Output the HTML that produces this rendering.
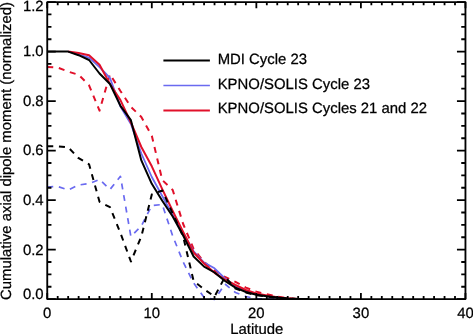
<!DOCTYPE html>
<html><head><meta charset="utf-8"><style>
html,body{margin:0;padding:0;background:#fff;}
body{width:473px;height:334px;overflow:hidden;}
svg{display:block;will-change:transform;}
text{font-family:"Liberation Sans",sans-serif;font-size:14.9px;fill:#000;stroke:#000;stroke-width:0.25px;text-rendering:geometricPrecision;}
</style></head><body>
<svg width="473" height="334" viewBox="0 0 473 334">
<g><polyline points="47.25,187.00 57.70,186.50 68.16,190.00 78.62,185.00 89.07,183.60 99.53,179.40 109.98,189.50 120.44,176.30 130.89,236.50 141.34,226.00 151.80,205.50 162.25,204.50 172.71,236.00 183.16,262.00 193.62,283.00 204.07,297.50 214.53,299.50 224.99,284.00 235.44,292.50 245.90,296.50 256.35,298.80 266.81,299.10 277.26,299.10" fill="none" stroke="#6a6af0" stroke-width="1.7" stroke-linejoin="round" stroke-dasharray="6 5.7"/><polyline points="47.25,67.00 57.70,67.60 68.16,71.60 78.62,74.80 89.07,85.30 99.53,110.60 109.98,74.30 120.44,91.00 130.89,106.80 141.34,117.00 151.80,135.70 162.25,180.00 172.71,190.00 183.16,224.00 193.62,249.00 204.07,262.00 214.53,270.50 224.99,277.00 235.44,281.80 245.90,287.60 256.35,291.60 266.81,294.30 277.26,296.60 287.72,298.30 298.17,299.10" fill="none" stroke="#e1102a" stroke-width="2.0" stroke-linejoin="round" stroke-dasharray="6 5.7"/><polyline points="68.16,51.50 78.62,54.60 89.07,57.60 99.53,67.20 109.98,78.00 120.44,106.50 130.89,124.00 141.34,153.50 151.80,177.00 162.25,196.00 172.71,215.00 183.16,233.00 193.62,251.30 204.07,262.50 214.53,268.30 224.99,278.50 235.44,286.00 245.90,291.00 256.35,294.20 266.81,296.20 277.26,297.70 287.72,298.60 298.17,299.00 308.62,299.10" fill="none" stroke="#6a6af0" stroke-width="1.8" stroke-linejoin="round"/><polyline points="68.16,51.50 78.62,53.10 89.07,55.20 99.53,64.80 109.98,84.00 120.44,100.10 130.89,122.50 141.34,147.00 151.80,166.30 162.25,189.20 172.71,211.00 183.16,232.00 193.62,252.50 204.07,263.50 214.53,272.80 224.99,279.60 235.44,285.00 245.90,290.00 256.35,293.50 266.81,295.50 277.26,297.20 287.72,298.30 298.17,298.90 308.62,299.10" fill="none" stroke="#e1102a" stroke-width="2.0" stroke-linejoin="round"/><polyline points="47.25,146.30 57.70,146.30 68.16,147.30 78.62,158.20 89.07,164.30 99.53,201.80 109.98,207.20 120.44,233.00 130.89,261.50 141.34,236.50 151.80,194.50 162.25,190.50 172.71,213.50 183.16,236.50 193.62,281.00 204.07,289.20 214.53,296.50 224.99,277.00 235.44,288.50 245.90,292.50 256.35,295.30 266.81,296.60 277.26,297.80 287.72,298.60 298.17,299.10" fill="none" stroke="#000" stroke-width="2.0" stroke-linejoin="round" stroke-dasharray="6 5.7"/><polyline points="47.25,51.50 57.70,51.50 68.16,51.60 78.62,55.20 89.07,60.00 99.53,73.50 109.98,84.00 120.44,105.80 130.89,120.20 141.34,160.40 151.80,183.80 162.25,200.70 172.71,216.50 183.16,235.50 193.62,256.50 204.07,266.60 214.53,272.50 224.99,281.00 235.44,287.60 245.90,292.00 256.35,294.80 266.81,296.20 277.26,297.40 287.72,298.40 298.17,298.90 308.62,299.10" fill="none" stroke="#000" stroke-width="2.0" stroke-linejoin="round"/></g>
<rect x="47.25" y="2.1" width="418.20" height="297.00" fill="none" stroke="#000" stroke-width="1.85" stroke-linejoin="round"/><path d="M47.25,299.1v-6.10M47.25,2.1v6.10M57.70,299.1v-3.10M57.70,2.1v3.10M68.16,299.1v-3.10M68.16,2.1v3.10M78.62,299.1v-3.10M78.62,2.1v3.10M89.07,299.1v-3.10M89.07,2.1v3.10M99.53,299.1v-3.10M99.53,2.1v3.10M109.98,299.1v-3.10M109.98,2.1v3.10M120.44,299.1v-3.10M120.44,2.1v3.10M130.89,299.1v-3.10M130.89,2.1v3.10M141.34,299.1v-3.10M141.34,2.1v3.10M151.80,299.1v-6.10M151.80,2.1v6.10M162.25,299.1v-3.10M162.25,2.1v3.10M172.71,299.1v-3.10M172.71,2.1v3.10M183.16,299.1v-3.10M183.16,2.1v3.10M193.62,299.1v-3.10M193.62,2.1v3.10M204.07,299.1v-3.10M204.07,2.1v3.10M214.53,299.1v-3.10M214.53,2.1v3.10M224.99,299.1v-3.10M224.99,2.1v3.10M235.44,299.1v-3.10M235.44,2.1v3.10M245.90,299.1v-3.10M245.90,2.1v3.10M256.35,299.1v-6.10M256.35,2.1v6.10M266.81,299.1v-3.10M266.81,2.1v3.10M277.26,299.1v-3.10M277.26,2.1v3.10M287.72,299.1v-3.10M287.72,2.1v3.10M298.17,299.1v-3.10M298.17,2.1v3.10M308.62,299.1v-3.10M308.62,2.1v3.10M319.08,299.1v-3.10M319.08,2.1v3.10M329.54,299.1v-3.10M329.54,2.1v3.10M339.99,299.1v-3.10M339.99,2.1v3.10M350.44,299.1v-3.10M350.44,2.1v3.10M360.90,299.1v-6.10M360.90,2.1v6.10M371.36,299.1v-3.10M371.36,2.1v3.10M381.81,299.1v-3.10M381.81,2.1v3.10M392.26,299.1v-3.10M392.26,2.1v3.10M402.72,299.1v-3.10M402.72,2.1v3.10M413.18,299.1v-3.10M413.18,2.1v3.10M423.63,299.1v-3.10M423.63,2.1v3.10M434.08,299.1v-3.10M434.08,2.1v3.10M444.54,299.1v-3.10M444.54,2.1v3.10M455.00,299.1v-3.10M455.00,2.1v3.10M465.45,299.1v-6.10M465.45,2.1v6.10M47.25,299.10h8.50M465.45,299.10h-8.50M47.25,286.73h4.20M465.45,286.73h-4.20M47.25,274.35h4.20M465.45,274.35h-4.20M47.25,261.98h4.20M465.45,261.98h-4.20M47.25,249.60h8.50M465.45,249.60h-8.50M47.25,237.23h4.20M465.45,237.23h-4.20M47.25,224.85h4.20M465.45,224.85h-4.20M47.25,212.48h4.20M465.45,212.48h-4.20M47.25,200.10h8.50M465.45,200.10h-8.50M47.25,187.73h4.20M465.45,187.73h-4.20M47.25,175.35h4.20M465.45,175.35h-4.20M47.25,162.98h4.20M465.45,162.98h-4.20M47.25,150.60h8.50M465.45,150.60h-8.50M47.25,138.23h4.20M465.45,138.23h-4.20M47.25,125.85h4.20M465.45,125.85h-4.20M47.25,113.48h4.20M465.45,113.48h-4.20M47.25,101.10h8.50M465.45,101.10h-8.50M47.25,88.72h4.20M465.45,88.72h-4.20M47.25,76.35h4.20M465.45,76.35h-4.20M47.25,63.97h4.20M465.45,63.97h-4.20M47.25,51.60h8.50M465.45,51.60h-8.50M47.25,39.23h4.20M465.45,39.23h-4.20M47.25,26.85h4.20M465.45,26.85h-4.20M47.25,14.47h4.20M465.45,14.47h-4.20M47.25,2.10h8.50M465.45,2.10h-8.50" stroke="#000" stroke-width="1.8" fill="none"/>
<g><line x1="163.4" y1="60.6" x2="209.9" y2="60.6" stroke="#000" stroke-width="2.0"/><text x="217.7" y="63.8">MDI Cycle 23</text><line x1="163.4" y1="85.5" x2="209.9" y2="85.5" stroke="#6a6af0" stroke-width="1.6"/><text x="217.7" y="88.5">KPNO/SOLIS Cycle 23</text><line x1="163.4" y1="110.4" x2="209.9" y2="110.4" stroke="#e1102a" stroke-width="2.0"/><text x="217.7" y="113.2">KPNO/SOLIS Cycles 21 and 22</text></g>
<g><text x="43.6" y="10.7" text-anchor="end">1.2</text><text x="43.6" y="56.3" text-anchor="end">1.0</text><text x="43.6" y="106.0" text-anchor="end">0.8</text><text x="43.6" y="155.4" text-anchor="end">0.6</text><text x="43.6" y="204.8" text-anchor="end">0.4</text><text x="43.6" y="254.6" text-anchor="end">0.2</text><text x="43.6" y="299.0" text-anchor="end">0.0</text><text x="47.25" y="318.0" text-anchor="middle">0</text><text x="151.80" y="318.0" text-anchor="middle">10</text><text x="256.35" y="318.0" text-anchor="middle">20</text><text x="360.90" y="318.0" text-anchor="middle">30</text><text x="465.45" y="318.0" text-anchor="middle">40</text><text x="256.8" y="333.6" text-anchor="middle">Latitude</text><text transform="translate(10.9,299.95) rotate(-90)">Cumulative axial dipole moment (normalized)</text></g>
</svg>
</body></html>
